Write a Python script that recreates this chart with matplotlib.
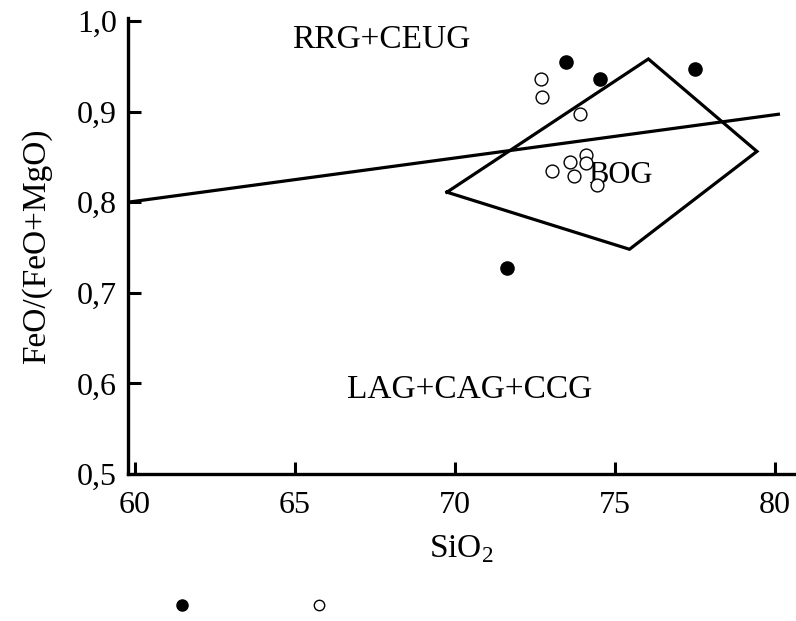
import matplotlib
matplotlib.use("Agg")
import matplotlib.pyplot as plt
from matplotlib.lines import Line2D

plt.rcParams["font.family"] = ["Liberation Serif", "DejaVu Serif"]
plt.rcParams["mathtext.fontset"] = "custom"
plt.rcParams["mathtext.rm"] = "Liberation Serif"

# data
filled_x = [73.47, 74.54, 77.51, 71.62]
filled_y = [0.955, 0.936, 0.947, 0.727]
open_x = [72.70, 72.71, 73.91, 74.09, 74.09, 73.58, 73.04, 73.72, 74.45]
open_y = [0.936, 0.916, 0.897, 0.852, 0.843, 0.844, 0.834, 0.829, 0.819]

# RRG+CEUG / LAG+CAG+CCG boundary
divide_x = [59.8, 80.1]
divide_y = [0.800, 0.897]

# POG field
field_x = [69.75, 76.04, 79.43, 75.45, 69.75]
field_y = [0.811, 0.958, 0.856, 0.748, 0.811]

x_ticks = [60, 65, 70, 75, 80]
y_ticks = [0.5, 0.6, 0.7, 0.8, 0.9, 1.0]
y_labels = ["0,5", "0,6", "0,7", "0,8", "0,9", "1,0"]

fig = plt.figure(figsize=(7.96, 6.21), dpi=100)
ax = fig.add_axes([0.1608, 0.2367, 0.838, 0.734])

ax.plot(divide_x, divide_y, color="black", lw=2.3, zorder=2)
ax.plot(field_x, field_y, color="black", lw=2.3, zorder=2, solid_joinstyle="miter")
ax.scatter(filled_x, filled_y, s=90, c="black", zorder=3)
ax.scatter(open_x, open_y, s=85, facecolors="white", edgecolors="black",
           linewidths=1.0, zorder=3)

ax.text(67.70, 0.979, "RRG+CEUG", fontsize=24, ha="center", va="center")
ax.text(70.47, 0.593, "LAG+CAG+CCG", fontsize=24, ha="center", va="center")
ax.text(75.16, 0.829, "BOG", fontsize=22, ha="center", va="center", zorder=2.5)

ax.set_xlim(59.79, 80.62)
ax.set_ylim(0.5, 1.003)
ax.set_xticks(x_ticks)
ax.set_yticks(y_ticks)
ax.set_yticklabels(y_labels)

for side in ("top", "right"):
    ax.spines[side].set_visible(False)
for side in ("left", "bottom"):
    ax.spines[side].set_linewidth(2.4)
ax.tick_params(direction="in", length=9, width=2.2, labelsize=23)
ax.tick_params(axis="x", pad=12)
ax.tick_params(axis="y", pad=8)

ax.set_xlabel("SiO$_\\mathrm{2}$", fontsize=24, labelpad=10)
ax.set_ylabel("FeO/(FeO+MgO)", fontsize=24, labelpad=18)

handles = [
    Line2D([], [], ls="none", marker="o", ms=8, mfc="black", mec="black"),
    Line2D([], [], ls="none", marker="o", ms=7.5, mfc="white", mec="black", mew=1.0),
]
fig.legend(handles, ["", ""], ncol=2, frameon=False, fontsize=10,
           handlelength=1, handletextpad=0, columnspacing=8.9,
           loc="center", bbox_to_anchor=(0.315, 0.024))

fig.savefig("out.png", dpi=100)
